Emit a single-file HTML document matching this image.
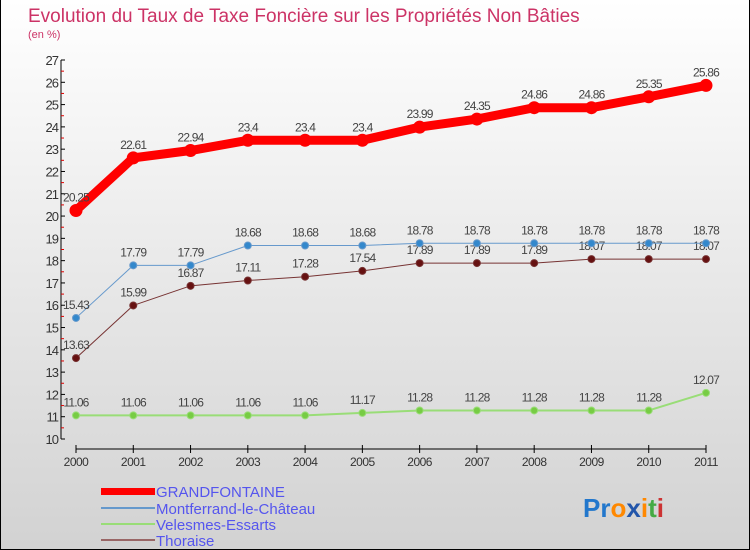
<!DOCTYPE html>
<html><head><meta charset="utf-8"><style>
body{margin:0}
#c{width:750px;height:550px;position:relative;box-sizing:border-box;border:1px solid #000;border-width:0 1px 1px 1px;background:linear-gradient(#ffffff,#d2d2d2);font-family:"Liberation Sans",sans-serif;overflow:hidden}
</style></head><body>
<div id="c">
<svg id="s" width="750" height="550" style="position:absolute;left:0;top:0">
<text x="27" y="22" font-size="19" fill="#cc3366">Evolution du Taux de Taxe Foncière sur les Propriétés Non Bâties</text>
<text x="27" y="38" font-size="11" fill="#cc3366">(en %)</text>
<g id="axes"></g><g id="series"></g>
<g>
<rect x="100" y="488" width="54" height="7" fill="#ff0000"/>
<text x="155" y="497" font-size="15" fill="#5555ee">GRANDFONTAINE</text>
<rect x="100" y="507" width="54" height="2" fill="#6699cc"/>
<text x="155" y="514" font-size="15" fill="#5555ee">Montferrand-le-Château</text>
<rect x="100" y="523" width="54" height="2" fill="#99dd77"/>
<text x="155" y="530" font-size="15" fill="#5555ee">Velesmes-Essarts</text>
<rect x="100" y="539" width="54" height="2" fill="#996666"/>
<text x="155" y="546" font-size="15" fill="#5555ee">Thoraise</text>
</g>
<text x="582" y="517" font-size="26" font-weight="bold"><tspan fill="#2277cc">Pr</tspan><tspan fill="#ff8800">o</tspan><tspan fill="#2255aa">x</tspan><tspan fill="#ff8800">i</tspan><tspan fill="#44aa44">t</tspan><tspan fill="#cc3333">i</tspan></text>
</svg>
</div>
<script>
const years=["2000","2001","2002","2003","2004","2005","2006","2007","2008","2009","2010","2011"];
const grandfontaine=[20.25,22.61,22.94,23.4,23.4,23.4,23.99,24.35,24.86,24.86,25.35,25.86];
const montferrand=[15.43,17.79,17.79,18.68,18.68,18.68,18.78,18.78,18.78,18.78,18.78,18.78];
const velesmes=[11.06,11.06,11.06,11.06,11.06,11.17,11.28,11.28,11.28,11.28,11.28,12.07];
const thoraise=[13.63,15.99,16.87,17.11,17.28,17.54,17.89,17.89,17.89,18.07,18.07,18.07];
const yTicks=[10,11,12,13,14,15,16,17,18,19,20,21,22,23,24,25,26,27];
const NS="http://www.w3.org/2000/svg";
const xS=i=>75+i*(630/(years.length-1));
const yS=v=>439-(v-10)*(379/17);
function mk(t,a,p){const e=document.createElementNS(NS,t);for(const k in a)e.setAttribute(k,a[k]);p.appendChild(e);return e;}
const ax=document.getElementById('axes');
const yl=mk('line',{x1:60,y1:yS(27),x2:60,y2:yS(10),stroke:'#000'},ax);


yTicks.forEach(v=>{
 const y=yS(v);
 mk('line',{x1:60,y1:y,x2:64,y2:y,stroke:'#000'},ax);
 if(v<27)mk('line',{x1:60,y1:y-11.15,x2:63,y2:y-11.15,stroke:'#dd0000'},ax);
 const t=mk('text',{x:57,y:y+5,'font-size':13,fill:'#333','text-anchor':'end','letter-spacing':'-1'},ax);
 
 
 t.textContent=v;
});
const xl=mk('line',{x1:75,y1:449,x2:705,y2:449,stroke:'#000'},ax);


years.forEach((yr,i)=>{
 const x=xS(i);
 mk('line',{x1:x,y1:445,x2:x,y2:453,stroke:'#000'},ax);
 const t=mk('text',{x:x,y:466,'font-size':12,fill:'#333','text-anchor':'middle','letter-spacing':'-0.5'},ax);
 
 
 t.textContent=yr;
});
const sg=document.getElementById('series');
function draw(name,vals,color,w,r,fill){
 const g=mk('g',{},sg);
 
 
 const pl=mk('polyline',{points:vals.map((v,i)=>xS(i)+','+yS(v)).join(' '),fill:'none',stroke:color,'stroke-width':w,'stroke-linejoin':'round'},g);
 
 
 vals.forEach((v,i)=>{
  const c=mk('circle',{cx:xS(i),cy:yS(v),r:r,fill:fill,stroke:color,'stroke-width':1},g);
  
  
  const t=mk('text',{x:xS(i),y:yS(v)-9,'font-size':12,fill:'#444','text-anchor':'middle','letter-spacing':'-0.8'},g);
  
  
  t.textContent=String(v);
 });
}
draw('velesmes',velesmes,'#99dd77',2,3.5,'#77cc44');
draw('thoraise',thoraise,'#773333',1,3.5,'#661111');
draw('montferrand',montferrand,'#6699cc',1,3.5,'#3388cc');
draw('grandfontaine',grandfontaine,'#ff0000',9,6,'#ff0000');
</script>
</body></html>
